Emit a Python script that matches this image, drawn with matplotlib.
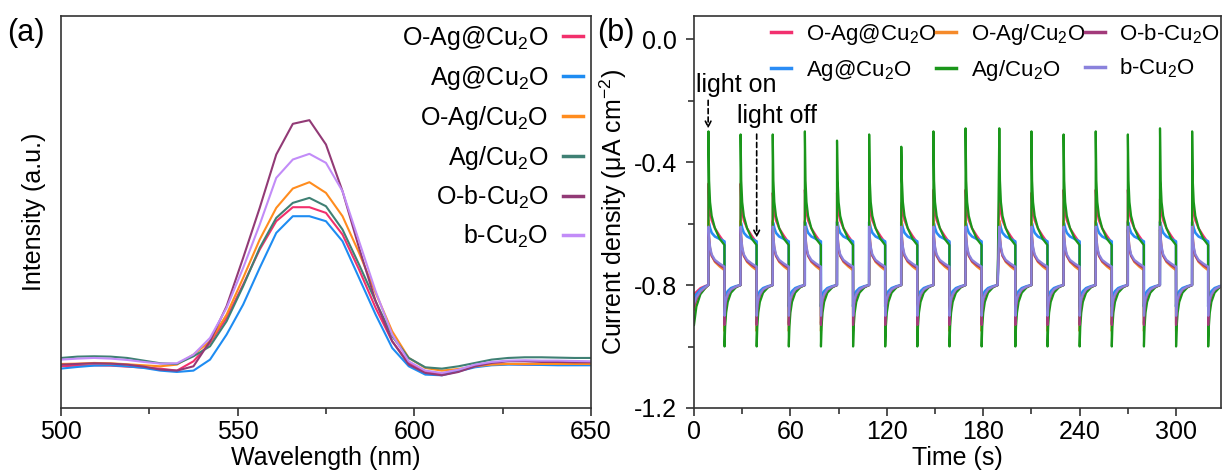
import numpy as np
import matplotlib.pyplot as plt
from matplotlib.ticker import MultipleLocator

plt.rcParams['font.family'] = ['Liberation Sans', 'DejaVu Sans']
plt.rcParams['mathtext.fontset'] = 'custom'
plt.rcParams['mathtext.rm'] = 'Liberation Sans'
plt.rcParams['mathtext.it'] = 'Liberation Sans:italic'
plt.rcParams['axes.unicode_minus'] = False

samples = ['O-Ag@Cu$_2$O', 'Ag@Cu$_2$O', 'O-Ag/Cu$_2$O',
           'Ag/Cu$_2$O', 'O-b-Cu$_2$O', 'b-Cu$_2$O']
colors_pl = ['#f2306c', '#1e8cf2', '#ff8c1e', '#3f8074', '#923a76', '#c28cf8']
colors_it = ['#f2306f', '#2a8cf5', '#f58a2a', '#1a961a', '#a23a7a', '#8a82dc']

# ---- PL spectra ----
wavelength = np.linspace(500, 650, 33)
pl_o_ag_at = [12.5, 12.7, 12.8, 12.7, 12.4, 12.1, 11.8, 11.2, 14.0, 19.5, 27.0,
              37.0, 47.5, 56.0, 60.2, 60.2, 58.5, 52.0, 41.5, 30.0, 20.0, 13.5,
              11.0, 10.2, 11.2, 12.5, 13.0, 13.2, 13.0, 13.0, 13.0, 13.0, 13.0]
pl_ag_at = [11.8, 12.3, 12.7, 12.8, 12.5, 12.0, 11.2, 10.8, 11.2, 14.5, 22.0,
            31.0, 42.0, 52.5, 57.5, 57.5, 56.0, 50.0, 39.0, 28.0, 18.0, 12.5,
            10.0, 9.8, 11.0, 12.2, 12.8, 13.0, 13.0, 12.9, 12.8, 12.8, 12.8]
pl_o_ag_on = [13.2, 13.3, 13.5, 13.4, 13.1, 12.8, 12.5, 13.0, 16.0, 20.0, 28.0,
              39.0, 50.5, 60.0, 65.8, 67.7, 64.5, 57.5, 46.5, 34.5, 23.0, 15.0,
              12.0, 11.2, 11.7, 12.5, 13.0, 13.2, 13.2, 13.2, 13.2, 13.2, 13.2]
pl_ag_on = [15.0, 15.4, 15.5, 15.4, 15.0, 14.2, 13.4, 13.2, 15.5, 18.5, 26.0,
            36.5, 48.0, 57.0, 61.5, 63.0, 60.5, 53.5, 43.0, 32.0, 21.5, 15.0,
            12.2, 11.8, 12.5, 13.5, 14.5, 15.0, 15.2, 15.2, 15.1, 15.0, 15.0]
pl_o_b = [13.0, 13.2, 13.4, 13.3, 13.0, 12.4, 11.5, 11.2, 12.5, 20.0, 30.5,
          45.0, 60.0, 76.0, 85.2, 86.3, 79.0, 65.0, 48.0, 32.0, 20.0, 13.0,
          10.5, 9.8, 10.8, 12.5, 13.5, 14.0, 14.0, 13.8, 13.8, 13.7, 13.7]
pl_b = [14.5, 14.8, 15.0, 14.8, 14.4, 13.8, 13.3, 13.4, 16.0, 21.0, 30.0,
        42.0, 55.0, 69.0, 74.5, 76.2, 73.5, 65.0, 50.0, 35.0, 22.0, 14.0,
        11.2, 10.5, 11.5, 13.0, 13.8, 14.2, 14.3, 14.2, 14.2, 14.1, 14.0]
pl_all = [pl_o_ag_at, pl_ag_at, pl_o_ag_on, pl_ag_on, pl_o_b, pl_b]

# ---- transient photocurrent ----
on_times = [9, 29, 49, 69, 89, 109, 129, 149, 169, 190, 210, 230, 250, 270, 290, 310]
off_times = [t + 10 for t in on_times]
step_t = np.array([0, 0.4, 1, 2, 4, 7, 9.95])   # time after each switch
init_t = np.array([0, 1.5, 4, 7, 8.95])

init_j = [[-0.83, -0.822, -0.81, -0.803, -0.80],
          [-0.85, -0.83, -0.815, -0.805, -0.80],
          [-0.88, -0.85, -0.825, -0.81, -0.80],
          [-0.93, -0.87, -0.83, -0.81, -0.80],
          [-0.87, -0.845, -0.822, -0.808, -0.80],
          [-0.86, -0.84, -0.82, -0.807, -0.80]]
on_j = [[-0.47, -0.53, -0.565, -0.59, -0.615, -0.64, -0.662],
        [-0.595, -0.60, -0.615, -0.63, -0.642, -0.65, -0.658],
        [-0.59, -0.64, -0.68, -0.705, -0.725, -0.74, -0.752],
        [-0.30, -0.46, -0.53, -0.575, -0.615, -0.65, -0.67],
        [-0.62, -0.655, -0.685, -0.705, -0.722, -0.735, -0.745],
        [-0.61, -0.645, -0.675, -0.70, -0.718, -0.73, -0.74]]
off_j = [[-0.925, -0.87, -0.845, -0.828, -0.813, -0.805, -0.80],
         [-0.87, -0.845, -0.83, -0.82, -0.81, -0.804, -0.80],
         [-0.95, -0.895, -0.86, -0.838, -0.818, -0.807, -0.80],
         [-1.00, -0.935, -0.89, -0.855, -0.825, -0.808, -0.80],
         [-0.93, -0.88, -0.852, -0.833, -0.815, -0.806, -0.80],
         [-0.90, -0.865, -0.845, -0.83, -0.814, -0.805, -0.80]]
# peak current right after each light-on switch
spike_pink = [-0.47, -0.47, -0.50, -0.49, -0.50, -0.49, -0.54, -0.49,
              -0.49, -0.49, -0.50, -0.49, -0.49, -0.49, -0.52, -0.50]
spike_green = [-0.30, -0.31, -0.31, -0.30, -0.33, -0.31, -0.35, -0.30,
               -0.29, -0.29, -0.30, -0.31, -0.30, -0.31, -0.29, -0.30]
spikes = {0: spike_pink, 3: spike_green}


def transient(i):
    ts, js = [init_t], [np.array(init_j[i])]
    for k, (t1, t2) in enumerate(zip(on_times, off_times)):
        prof = np.array(on_j[i], dtype=float)
        if i in spikes:
            prof[0] = spikes[i][k]
        ts += [t1 + step_t, t2 + step_t]
        js += [prof, np.array(off_j[i])]
    return np.concatenate(ts), np.concatenate(js)


fig = plt.figure(figsize=(12.24, 4.71), dpi=100)
ax1 = fig.add_axes([0.0498, 0.1338, 0.433, 0.832])
ax2 = fig.add_axes([0.567, 0.1338, 0.4306, 0.832])

for ax in (ax1, ax2):
    for s in ax.spines.values():
        s.set_linewidth(1.2)
        s.set_color('#333333')
    ax.tick_params(which='both', direction='out', width=1.2, color='#333333',
                   labelsize=18, pad=3)
    ax.tick_params(which='major', length=6)
    ax.tick_params(which='minor', length=4)

# (a) PL
for y, c, lab in zip(pl_all, colors_pl, samples):
    ax1.plot(wavelength, y, color=c, lw=1.5, label=lab)
ax1.set_xlim(500, 650)
ax1.set_ylim(0, 117.5)
ax1.set_yticks([])
ax1.xaxis.set_major_locator(MultipleLocator(50))
ax1.xaxis.set_minor_locator(MultipleLocator(25))
ax1.set_xlabel('Wavelength (nm)', fontsize=18, labelpad=1)
ax1.set_ylabel('Intensity (a.u.)', fontsize=18)
ax1.yaxis.set_label_coords(-0.028, 0.5)
leg1 = ax1.legend(loc='upper right', frameon=False, markerfirst=False,
                  fontsize=18, handlelength=0.8, handletextpad=0.6,
                  labelspacing=0.48, borderaxespad=0.0, borderpad=0.3)
for h in leg1.get_lines():
    h.set_linewidth(2.5)

# (b) i-t curves
for i, (c, lab) in enumerate(zip(colors_it, samples)):
    t, j = transient(i)
    ax2.plot(t, j, color=c, lw=1.9 if i == 1 else 1.6, label=lab)
ax2.set_xlim(0, 328)
ax2.set_ylim(-1.2, 0.075)
ax2.xaxis.set_major_locator(MultipleLocator(60))
ax2.xaxis.set_minor_locator(MultipleLocator(30))
ax2.yaxis.set_major_locator(MultipleLocator(0.4))
ax2.yaxis.set_minor_locator(MultipleLocator(0.2))
ax2.yaxis.set_major_formatter(lambda v, p: f'{v:.1f}')
ax2.tick_params(axis='y', pad=6)
ax2.set_xlabel('Time (s)', fontsize=18, labelpad=1)
ax2.set_ylabel('Current density (μA cm$^{-2}$)', fontsize=18)
ax2.yaxis.set_label_coords(-0.123, 0.5)
leg2 = ax2.legend(ncol=3, loc='upper right', frameon=False, fontsize=16,
                  handlelength=0.9, handletextpad=0.65, columnspacing=0.0,
                  labelspacing=0.5, borderaxespad=0.0, borderpad=0.0,
                  bbox_to_anchor=(0.998, 0.985))
for h in leg2.get_lines():
    h.set_linewidth(2.5)

arrow = dict(arrowstyle='->', ls=(0, (3, 2)), color='k', lw=1.2)
ax2.text(1, -0.148, 'light on', fontsize=18, va='center')
ax2.annotate('', xy=(8.8, -0.30), xytext=(8.8, -0.19), arrowprops=arrow)
ax2.text(27, -0.25, 'light off', fontsize=18, va='center')
ax2.annotate('', xy=(39, -0.655), xytext=(39, -0.30), arrowprops=arrow)

fig.text(0.006, 0.93, '(a)', fontsize=22, va='center')
fig.text(0.488, 0.93, '(b)', fontsize=22, va='center')

fig.savefig('out.png', dpi=100)
